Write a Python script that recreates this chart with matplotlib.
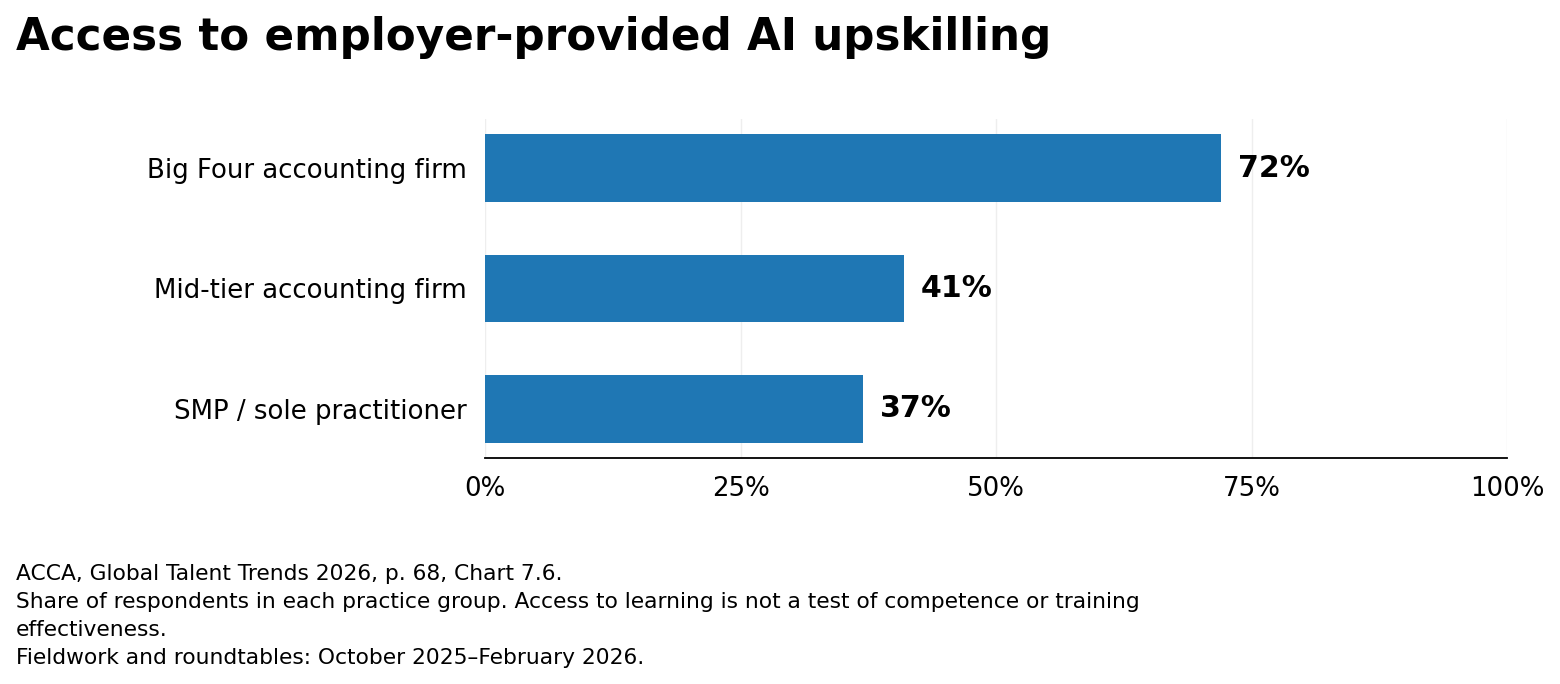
import matplotlib
matplotlib.use("Agg")
import matplotlib.pyplot as plt

categories = ["Big Four accounting firm", "Mid-tier accounting firm", "SMP / sole practitioner"]
values = [72, 41, 37]
xticks = [0, 25, 50, 75, 100]
xtick_labels = ["0%", "25%", "50%", "75%", "100%"]

title = "Access to employer-provided AI upskilling"
footnote = ("ACCA, Global Talent Trends 2026, p. 68, Chart 7.6.\n"
            "Share of respondents in each practice group. Access to learning is not a test of competence or training\n"
            "effectiveness.\n"
            "Fieldwork and roundtables: October 2025\u2013February 2026.")

plt.rcParams["font.family"] = ["DejaVu Sans"]

fig = plt.figure(figsize=(15.6, 6.84), dpi=100)
ax = fig.add_axes([485/1560, 1-458/684, (1507-485)/1560, (458-119)/684])

ypos = list(range(len(categories)))
ax.barh(ypos, values, height=0.56, color="#1f77b4")
ax.invert_yaxis()
ax.set_xlim(0, 100)
ax.set_yticks(ypos)
ax.set_yticklabels(categories, fontsize=18.7)
ax.set_xticks(xticks)
ax.set_xticklabels(xtick_labels, fontsize=18.7)
ax.tick_params(axis="both", length=0)
ax.tick_params(axis="x", pad=13)
ax.tick_params(axis="y", pad=13)

for s in ["top", "right", "left"]:
    ax.spines[s].set_visible(False)
ax.spines["bottom"].set_color("black")
ax.spines["bottom"].set_linewidth(1.3)

ax.grid(axis="x", color="#eeeeee", linewidth=1)
ax.set_axisbelow(True)

for y, v in zip(ypos, values):
    ax.annotate(f"{v}%", xy=(v, y), xytext=(12, 0), textcoords="offset points",
                va="center", ha="left", fontsize=21.6, fontweight="bold")

fig.text(16/1560, 1-50/684, title, fontsize=31.4, fontweight="bold", va="baseline", ha="left")
fig.text(16/1560, 1-564/684, footnote, fontsize=15.7, va="top", ha="left", linespacing=1.49)

fig.savefig("out.png", dpi=100)
